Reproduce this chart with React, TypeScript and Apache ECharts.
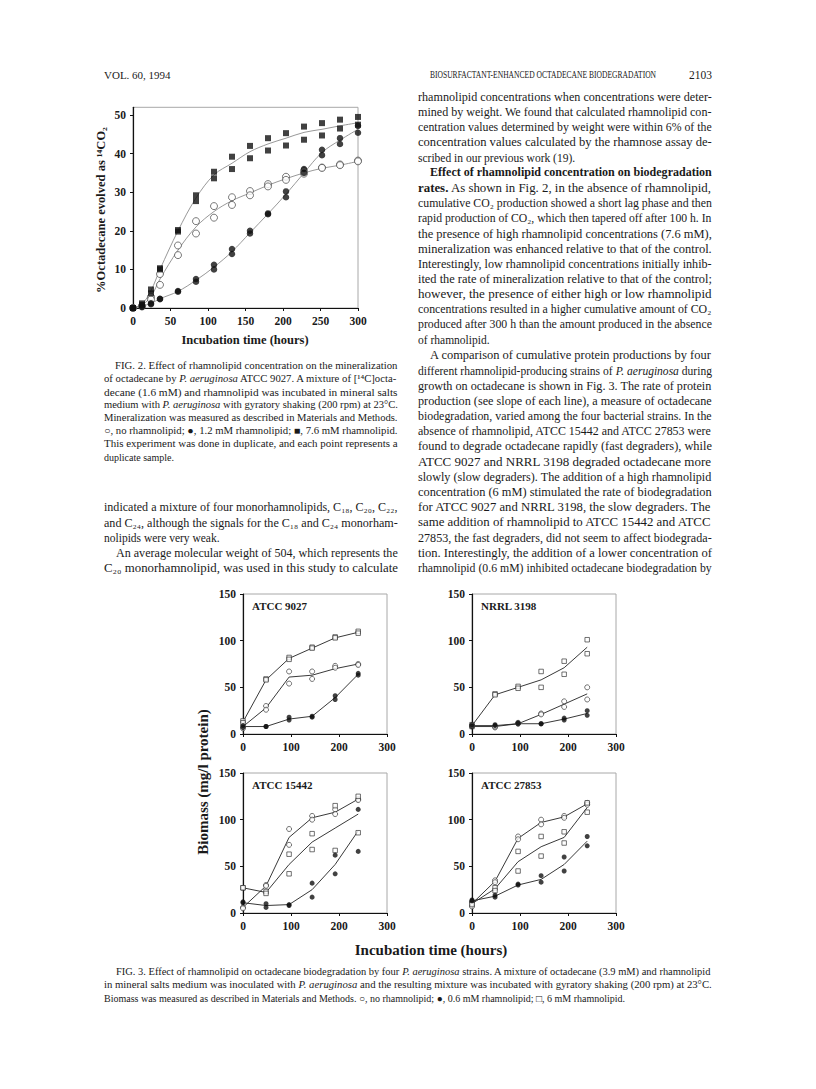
import React, { useEffect, useRef } from 'react';
import * as echarts from 'echarts';

const FONT = '"Liberation Serif", "Times New Roman", Times, serif';
const INK = '#1a1a1a';

// ---------- Fig. 2 data (hours, % octadecane evolved as 14CO2) ----------
const fig2Times = [0, 12, 24, 36, 60, 84, 108, 132, 156, 180, 204, 228, 252, 276, 300];
const f2HighA = [0, 1.2, 4.8, 10.3, 20.2, 29.2, 35.3, 39.2, 42.0, 44.0, 45.3, 47.0, 47.9, 48.8, 49.5];
const f2HighB = [0, 0.8, 3.8, 10.0, 19.8, 27.7, 33.6, 36.0, 38.8, 40.8, 42.1, 43.6, 44.7, 46.5, 47.5];
const f2NoneA = [0, 0.6, 2.9, 8.8, 16.2, 22.5, 26.4, 28.7, 30.3, 32.1, 34.0, 35.5, 36.4, 37.2, 38.2];
const f2NoneB = [0, 0.4, 2.2, 6.0, 13.7, 19.3, 23.4, 26.7, 29.2, 31.5, 33.2, 34.8, 36.3, 37.0, 38.0];
const f2LowA = [0, 0.5, 1.2, 2.4, 4.4, 7.5, 11.2, 15.3, 20.0, 24.5, 30.2, 36.0, 41.0, 44.0, 47.2];
const f2LowB = [0, 0.3, 1.0, 2.3, 4.2, 6.8, 10.0, 14.0, 19.3, 24.3, 28.7, 35.0, 39.6, 42.5, 45.4];
const f2HighFit = [0, 1.0, 4.5, 10.0, 20.0, 28.5, 34.5, 37.5, 40.5, 42.5, 44.0, 45.5, 46.3, 47.2, 48.0];
const f2NoneFit = [0, 0.8, 3.0, 7.5, 15.0, 21.0, 25.0, 27.8, 29.8, 31.8, 33.5, 35.0, 36.2, 37.0, 38.0];
const f2LowFit = [0, 0.5, 1.2, 2.4, 4.3, 7.2, 10.6, 14.6, 19.5, 24.4, 29.5, 35.0, 40.3, 43.5, 46.3];
const fig2XTicks = [0, 50, 100, 150, 200, 250, 300];
const fig2YTicks = [0, 10, 20, 30, 40, 50];

// ---------- Fig. 3 data (hours, biomass mg/l protein) ----------
const t3 = [0, 48, 96, 144, 192, 240];
const fig3YTicks = [0, 50, 100, 150];
const fig3XTicks = [0, 100, 200, 300];
const panelNames = ['ATCC 9027', 'NRRL 3198', 'ATCC 15442', 'ATCC 27853'];

const a9027NoneA = [8, 30, 67, 67, 73, 75];
const a9027NoneB = [6, 26, 54, 59, 71, 74];
const a9027NoneLine = [8, 28, 61, 63, 70, 75];
const a9027LowA = [9, 8, 18, 19, 41, 65];
const a9027LowB = [7, 8, 15, 18, 37, 63];
const a9027LowLine = [8, 8, 16, 19, 39, 64];
const a9027HighA = [14, 59, 82, 93, 104, 110];
const a9027HighB = [12, 58, 80, 92, 103, 108];
const a9027HighLine = [13, 58, 81, 92, 103, 109];

const n3198NoneA = [9, 7, 12, 22, 35, 50];
const n3198NoneB = [8, 8, 11, 21, 29, 37];
const n3198NoneLine = [8, 8, 11, 21, 32, 43];
const n3198LowA = [10, 10, 12, 11, 17, 25];
const n3198LowB = [8, 9, 11, 11, 15, 20];
const n3198LowLine = [9, 9, 11, 11, 16, 22];
const n3198HighA = [10, 43, 51, 67, 78, 101];
const n3198HighB = [8, 42, 49, 50, 64, 86];
const n3198HighLine = [9, 42, 50, 58, 71, 93];

const a15442NoneA = [6, 30, 90, 104, 111, 122];
const a15442NoneB = [5, 29, 73, 100, 106, 121];
const a15442NoneLine = [6, 29, 81, 102, 108, 122];
const a15442LowA = [12, 10, 9, 32, 62, 111];
const a15442LowB = [11, 6, 8, 17, 42, 66];
const a15442LowLine = [11, 8, 9, 25, 52, 88];
const a15442HighA = [27, 23, 63, 85, 115, 125];
const a15442HighB = [27, 21, 42, 68, 67, 86];
const a15442HighLine = [27, 22, 52, 76, 91, 106];

const a27853NoneA = [7, 35, 82, 100, 104, 118];
const a27853NoneB = [12, 33, 79, 95, 102, 116];
const a27853NoneLine = [10, 34, 80, 97, 103, 117];
const a27853LowA = [14, 19, 31, 40, 60, 82];
const a27853LowB = [13, 17, 30, 33, 45, 72];
const a27853LowLine = [13, 18, 30, 36, 52, 77];
const a27853HighA = [10, 27, 66, 82, 87, 118];
const a27853HighB = [9, 24, 45, 61, 75, 108];
const a27853HighLine = [10, 26, 55, 71, 81, 113];

// ---------- page text ('>' = indented line, '¶' = last line of paragraph) ----------
const headerLeft = 'VOL. 60, 1994';
const headerMid = 'BIOSURFACTANT-ENHANCED OCTADECANE BIODEGRADATION';
const headerRight = '2103';

const fig2CaptionLines = [
  '>FIG. 2. Effect of rhamnolipid concentration on the mineralization',
  'of octadecane by {i|P. aeruginosa} ATCC 9027. A mixture of [¹⁴C]octa-',
  'decane (1.6 mM) and rhamnolipid was incubated in mineral salts',
  'medium with {i|P. aeruginosa} with gyratory shaking (200 rpm) at 23°C.',
  'Mineralization was measured as described in Materials and Methods.',
  '○, no rhamnolipid; ●, 1.2 mM rhamnolipid; ■, 7.6 mM rhamnolipid.',
  'This experiment was done in duplicate, and each point represents a',
  'duplicate sample.¶',
];

const leftBodyLines = [
  'indicated a mixture of four monorhamnolipids, C₁₈, C₂₀, C₂₂,',
  'and C₂₄, although the signals for the C₁₈ and C₂₄ monorham-',
  'nolipids were very weak.¶',
  '>An average molecular weight of 504, which represents the',
  'C₂₀ monorhamnolipid, was used in this study to calculate',
];

const rightBodyLines = [
  'rhamnolipid concentrations when concentrations were deter-',
  'mined by weight. We found that calculated rhamnolipid con-',
  'centration values determined by weight were within 6% of the',
  'concentration values calculated by the rhamnose assay de-',
  'scribed in our previous work (19).¶',
  '>{b|Effect of rhamnolipid concentration on biodegradation}',
  '{b|rates.} As shown in Fig. 2, in the absence of rhamnolipid,',
  'cumulative CO₂ production showed a short lag phase and then',
  'rapid production of CO₂, which then tapered off after 100 h. In',
  'the presence of high rhamnolipid concentrations (7.6 mM),',
  'mineralization was enhanced relative to that of the control.',
  'Interestingly, low rhamnolipid concentrations initially inhib-',
  'ited the rate of mineralization relative to that of the control;',
  'however, the presence of either high or low rhamnolipid',
  'concentrations resulted in a higher cumulative amount of CO₂',
  'produced after 300 h than the amount produced in the absence',
  'of rhamnolipid.¶',
  '>A comparison of cumulative protein productions by four',
  'different rhamnolipid-producing strains of {i|P. aeruginosa} during',
  'growth on octadecane is shown in Fig. 3. The rate of protein',
  'production (see slope of each line), a measure of octadecane',
  'biodegradation, varied among the four bacterial strains. In the',
  'absence of rhamnolipid, ATCC 15442 and ATCC 27853 were',
  'found to degrade octadecane rapidly (fast degraders), while',
  'ATCC 9027 and NRRL 3198 degraded octadecane more',
  'slowly (slow degraders). The addition of a high rhamnolipid',
  'concentration (6 mM) stimulated the rate of biodegradation',
  'for ATCC 9027 and NRRL 3198, the slow degraders. The',
  'same addition of rhamnolipid to ATCC 15442 and ATCC',
  '27853, the fast degraders, did not seem to affect biodegrada-',
  'tion. Interestingly, the addition of a lower concentration of',
  'rhamnolipid (0.6 mM) inhibited octadecane biodegradation by',
];

const fig3CaptionLines = [
  '>FIG. 3. Effect of rhamnolipid on octadecane biodegradation by four {i|P. aeruginosa} strains. A mixture of octadecane (3.9 mM) and rhamnolipid',
  'in mineral salts medium was inoculated with {i|P. aeruginosa} and the resulting mixture was incubated with gyratory shaking (200 rpm) at 23°C.',
  'Biomass was measured as described in Materials and Methods. ○, no rhamnolipid; ●, 0.6 mM rhamnolipid; □, 6 mM rhamnolipid.¶',
];

// ---------- helpers ----------
let measureCtx: CanvasRenderingContext2D | null = null;
function mw(t: string, size: number, kind: string) {
  if (!measureCtx) measureCtx = document.createElement('canvas').getContext('2d');
  const ctx = measureCtx!;
  ctx.font = `${kind === 'i' ? 'italic ' : ''}${kind === 'b' ? 'bold ' : ''}${size}px ${FONT}`;
  return ctx.measureText(t).width;
}
function measureRich(s: string, size: number) {
  const re = /\{(\w)\|([^}]*)\}/g;
  let w = 0;
  let last = 0;
  let m: RegExpExecArray | null;
  while ((m = re.exec(s))) {
    w += mw(s.slice(last, m.index), size, '');
    w += mw(m[2], size, m[1]);
    last = re.lastIndex;
  }
  w += mw(s.slice(last), size, '');
  return w;
}
function richStyles(size: number) {
  return {
    i: { fontStyle: 'italic', fontSize: size, fontFamily: FONT, fill: INK },
    b: { fontWeight: 'bold', fontSize: size, fontFamily: FONT, fill: INK },
  };
}
function textBlock(lines: string[], x: number, y0: number, dy: number, width: number, size: number, indent: number) {
  return lines.map((raw, k) => {
    let s = raw;
    let ind = 0;
    let last = false;
    if (s.startsWith('>')) { ind = indent; s = s.slice(1); }
    if (s.endsWith('¶')) { last = true; s = s.slice(0, -1); }
    const w = measureRich(s, size);
    let sx = last ? 1 : (width - ind) / w;
    sx = Math.max(0.85, Math.min(1.15, sx));
    return {
      type: 'text',
      x: x + ind,
      y: y0 + k * dy,
      scaleX: sx,
      silent: true,
      style: {
        text: s,
        fontFamily: FONT,
        fontSize: size,
        fill: INK,
        align: 'left',
        verticalAlign: 'middle',
        rich: richStyles(size),
      },
    };
  });
}
const pairs = (xs: number[], ys: number[]) => xs.map((x, i) => [x, ys[i]]);

const boldLabel = (size: number) => ({
  fontFamily: FONT,
  fontWeight: 'bold' as const,
  fontSize: size,
  color: INK,
});

function panelSeries(
  gi: number,
  noneA: number[], noneB: number[], noneL: number[],
  lowA: number[], lowB: number[], lowL: number[],
  highA: number[], highB: number[], highL: number[],
) {
  const lineS = (d: number[]) => ({
    type: 'line', xAxisIndex: gi, yAxisIndex: gi, data: pairs(t3, d),
    symbol: 'none', showSymbol: false, smooth: false, z: 2, silent: true,
    lineStyle: { color: '#222', width: 0.9 },
  });
  const openItem = { color: '#fff', borderColor: '#222', borderWidth: 0.8 };
  return [
    lineS(noneL), lineS(lowL), lineS(highL),
    { type: 'scatter', xAxisIndex: gi, yAxisIndex: gi, symbol: 'circle', symbolSize: 5, z: 3,
      itemStyle: openItem, data: pairs(t3, noneA).concat(pairs(t3, noneB)) },
    { type: 'scatter', xAxisIndex: gi, yAxisIndex: gi, symbol: 'rect', symbolSize: 4.5, z: 3,
      itemStyle: openItem, data: pairs(t3, highA).concat(pairs(t3, highB)) },
    { type: 'scatter', xAxisIndex: gi, yAxisIndex: gi, symbol: 'circle', symbolSize: 5, z: 4,
      itemStyle: { color: '#111' }, data: pairs(t3, lowA).concat(pairs(t3, lowB)) },
  ];
}

function buildOption() {
  const gridBox = { show: true, borderColor: '#a8a8a8', borderWidth: 1, backgroundColor: 'transparent', outerBoundsMode: 'none' };
  const panelPos = [
    { left: 243, top: 594 },
    { left: 472, top: 594 },
    { left: 243, top: 773 },
    { left: 472, top: 773 },
  ];
  const grids: any[] = [
    { ...gridBox, left: 133, top: 107.3, width: 225, height: 200.7 },
    ...panelPos.map((p) => ({ ...gridBox, left: p.left, top: p.top, width: 144, height: 140 })),
  ];
  const axisLine = { show: true, onZero: false, lineStyle: { color: '#111', width: 1.2 } };
  const xAxes: any[] = [
    {
      gridIndex: 0, type: 'value', min: 0, max: 300, interval: 50,
      axisLine, axisTick: { show: true, length: 3, customValues: fig2XTicks, lineStyle: { color: '#111' } },
      axisLabel: { ...boldLabel(11.5), margin: 7, customValues: fig2XTicks },
      splitLine: { show: false },
    },
    ...[1, 2, 3, 4].map((g) => ({
      gridIndex: g, type: 'value', min: 0, max: 300, interval: 100,
      axisLine, axisTick: { show: true, length: 3, customValues: fig3XTicks, lineStyle: { color: '#111' } },
      axisLabel: { ...boldLabel(11.5), margin: 7, customValues: fig3XTicks },
      splitLine: { show: false },
    })),
  ];
  const yAxes: any[] = [
    {
      gridIndex: 0, type: 'value', min: 0, max: 52, interval: 10,
      axisLine, axisTick: { show: true, length: 3, customValues: fig2YTicks, lineStyle: { color: '#111' } },
      axisLabel: { ...boldLabel(11.5), margin: 7, customValues: fig2YTicks },
      splitLine: { show: false },
    },
    ...[1, 2, 3, 4].map((g) => ({
      gridIndex: g, type: 'value', min: 0, max: 150, interval: 50,
      axisLine, axisTick: { show: true, length: 3, customValues: fig3YTicks, lineStyle: { color: '#111' } },
      axisLabel: { ...boldLabel(11.5), margin: 7, customValues: fig3YTicks },
      splitLine: { show: false },
    })),
  ];

  const fig2Line = (d: number[]) => ({
    type: 'line', xAxisIndex: 0, yAxisIndex: 0, data: pairs(fig2Times, d),
    symbol: 'none', showSymbol: false, smooth: 0.35, z: 2, silent: true,
    lineStyle: { color: '#8c8c8c', width: 0.9 },
  });
  const series: any[] = [
    fig2Line(f2HighFit), fig2Line(f2NoneFit), fig2Line(f2LowFit),
    { type: 'scatter', xAxisIndex: 0, yAxisIndex: 0, symbol: 'circle', symbolSize: 7, z: 3,
      itemStyle: { color: '#fff', borderColor: '#444', borderWidth: 0.9 },
      data: pairs(fig2Times, f2NoneA).concat(pairs(fig2Times, f2NoneB)) },
    { type: 'scatter', xAxisIndex: 0, yAxisIndex: 0, symbol: 'circle', symbolSize: 6.5, z: 4,
      itemStyle: { color: '#111' },
      data: pairs(fig2Times, f2LowA).concat(pairs(fig2Times, f2LowB)) },
    { type: 'scatter', xAxisIndex: 0, yAxisIndex: 0, symbol: 'rect', symbolSize: 6, z: 4,
      itemStyle: { color: '#111' },
      data: pairs(fig2Times, f2HighA).concat(pairs(fig2Times, f2HighB)) },
    ...panelSeries(1, a9027NoneA, a9027NoneB, a9027NoneLine, a9027LowA, a9027LowB, a9027LowLine, a9027HighA, a9027HighB, a9027HighLine),
    ...panelSeries(2, n3198NoneA, n3198NoneB, n3198NoneLine, n3198LowA, n3198LowB, n3198LowLine, n3198HighA, n3198HighB, n3198HighLine),
    ...panelSeries(3, a15442NoneA, a15442NoneB, a15442NoneLine, a15442LowA, a15442LowB, a15442LowLine, a15442HighA, a15442HighB, a15442HighLine),
    ...panelSeries(4, a27853NoneA, a27853NoneB, a27853NoneLine, a27853LowA, a27853LowB, a27853LowLine, a27853HighA, a27853HighB, a27853HighLine),
  ];

  const plain = (text: string, x: number, y: number, size: number, opts: any = {}) => ({
    type: 'text', x, y, silent: true, rotation: opts.rotation || 0, scaleX: opts.scaleX || 1,
    style: {
      text, fontFamily: FONT, fontSize: size, fontWeight: opts.bold ? 'bold' : 'normal',
      fill: INK, align: opts.align || 'left', verticalAlign: 'middle',
    },
  });
  const midScale = Math.min(1, 226 / mw(headerMid, 10, ''));

  const graphics: any[] = [
    plain(headerLeft, 104, 75, 11),
    plain(headerMid, 543, 75, 10, { align: 'center', scaleX: midScale }),
    plain(headerRight, 712, 75, 11.5, { align: 'right' }),
    plain('%Octadecane evolved as ¹⁴CO₂', 101, 210, 12.5, { bold: true, align: 'center', rotation: Math.PI / 2 }),
    plain('Incubation time (hours)', 245, 340, 12.5, { bold: true, align: 'center' }),
    plain('Biomass (mg/l protein)', 203, 782, 15, { bold: true, align: 'center', rotation: Math.PI / 2 }),
    plain('Incubation time (hours)', 431, 950, 15, { bold: true, align: 'center' }),
    ...panelPos.map((p, i) => plain(panelNames[i], p.left + 9, p.top + 12, 11, { bold: true })),
    ...textBlock(fig2CaptionLines, 104, 366, 13, 294, 10, 11),
    ...textBlock(leftBodyLines, 104, 507.6, 15.2, 294, 11.5, 12),
    ...textBlock(rightBodyLines, 418, 97, 15.2, 294, 11.5, 12),
    ...textBlock(fig3CaptionLines, 104, 972, 13, 608, 10, 12),
  ];

  return {
    animation: false,
    backgroundColor: '#ffffff',
    grid: grids,
    xAxis: xAxes,
    yAxis: yAxes,
    series,
    graphic: { elements: graphics },
  };
}

export default function App() {
  const ref = useRef<HTMLDivElement>(null);
  useEffect(() => {
    if (!ref.current) return;
    const chart = echarts.init(ref.current, undefined, { renderer: 'svg', width: 816, height: 1089 });
    chart.setOption(buildOption() as any);
    return () => chart.dispose();
  }, []);
  return (
    <div
      ref={ref}
      style={{ position: 'absolute', left: 0, top: 0, width: 816, height: 1089, background: '#fff' }}
    />
  );
}
